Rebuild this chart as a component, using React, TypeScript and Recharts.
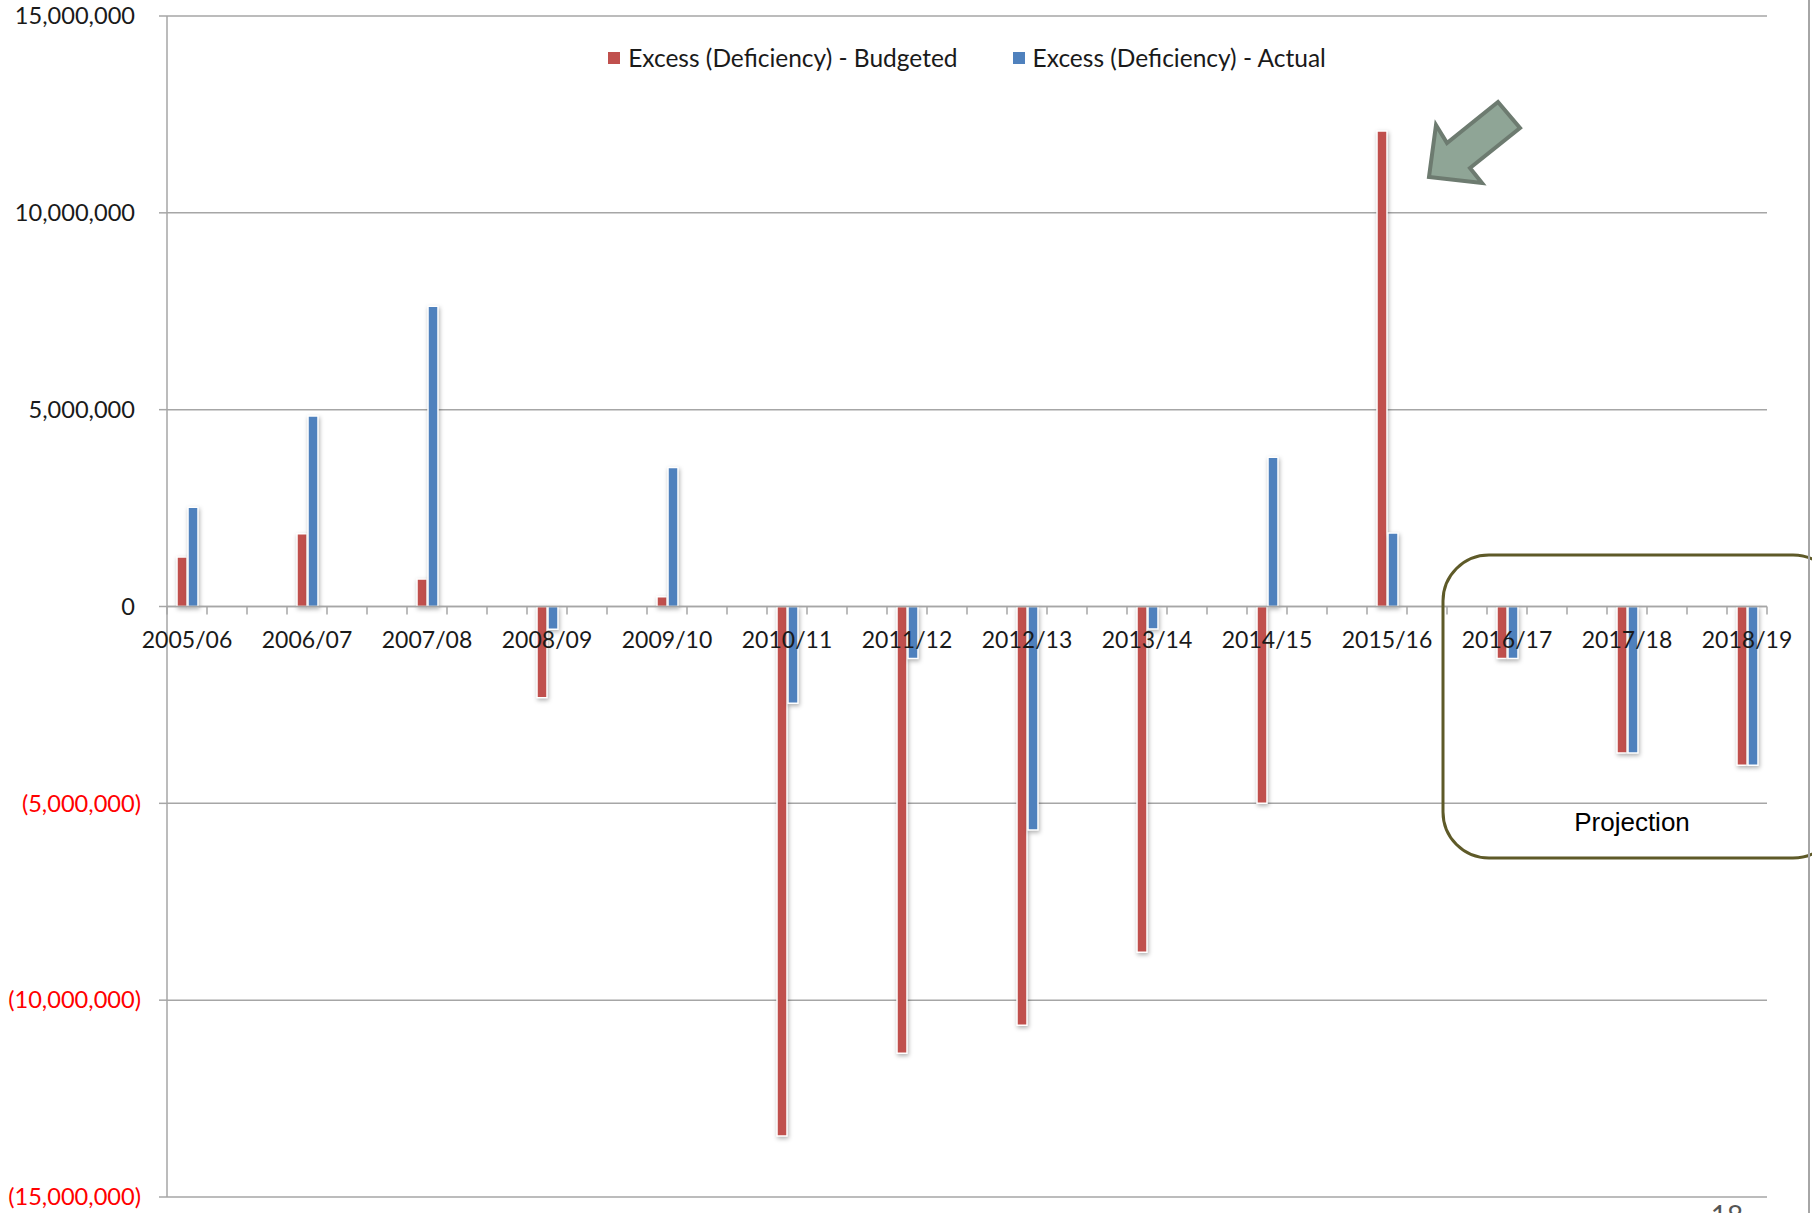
import { BarChart, Bar, XAxis, YAxis, CartesianGrid, ReferenceLine, Legend } from 'recharts';

// Fiscal years and surplus / deficit per year
const YEARS = [
  '2005/06', '2006/07', '2007/08', '2008/09', '2009/10', '2010/11', '2011/12',
  '2012/13', '2013/14', '2014/15', '2015/16', '2016/17', '2017/18', '2018/19',
];
const BUDGETED = [
  1260000, 1850000, 700000, -2320000, 250000, -13450000, -11350000,
  -10640000, -8780000, -5000000, 12080000, -1320000, -3720000, -4030000,
];
const ACTUAL = [
  2520000, 4840000, 7630000, -580000, 3530000, -2460000, -1320000,
  -5680000, -570000, 3790000, 1870000, -1320000, -3720000, -4030000,
];
const Y_TICKS = [-15000000, -10000000, -5000000, 0, 5000000, 10000000, 15000000];
const Y_MIN = -15000000;
const Y_MAX = 15000000;

// two empty category slots sit between consecutive years
const BLANK_SLOTS = 2;

const RED = '#c0504d';
const BLUE = '#4f81bd';
const GRID = '#a6a6a6';
const FONT = 'Lato, "Open Sans", sans-serif';

const W = 1812;
const H = 1213;
const MARGIN = { top: 16, right: 45, bottom: 15, left: 0 };
const Y_AXIS_W = 167;
const X_AXIS_H = 1;
const PLOT_W = W - MARGIN.left - MARGIN.right - Y_AXIS_W;
const PLOT_H = H - MARGIN.top - MARGIN.bottom - X_AXIS_H;

const data: { slot: string; budgeted: number | null; actual: number | null }[] = [];
YEARS.forEach((year, i) => {
  data.push({ slot: year, budgeted: BUDGETED[i], actual: ACTUAL[i] });
  if (i < YEARS.length - 1) {
    for (let k = 0; k < BLANK_SLOTS; k++) data.push({ slot: '', budgeted: null, actual: null });
  }
});
const SLOT_W = PLOT_W / data.length;

const fmt = (v: number) => {
  const s = Math.abs(v).toLocaleString('en-US');
  return v < 0 ? `(${s})` : s;
};

// category labels and tick marks hang off the zero line, not the plot bottom
const CategoryTick = (props: any) => {
  const { x, y, payload, index, visibleTicksCount } = props;
  const zeroY = y - (PLOT_H * (0 - Y_MIN)) / (Y_MAX - Y_MIN);
  const left = x - SLOT_W / 2;
  return (
    <g>
      <line x1={left} x2={left} y1={zeroY} y2={zeroY + 8} stroke={GRID} strokeWidth={1.5} />
      {index === visibleTicksCount - 1 && (
        <line x1={x + SLOT_W / 2} x2={x + SLOT_W / 2} y1={zeroY} y2={zeroY + 8} stroke={GRID} strokeWidth={1.5} />
      )}
      {payload.value ? (
        <text x={x} y={zeroY + 33} dy="0.35em" textAnchor="middle" fontSize={23} fontFamily={FONT} fill="#1a1a1a">
          {payload.value}
        </text>
      ) : null}
    </g>
  );
};

const ValueTick = (props: any) => {
  const { x, y, payload } = props;
  const v = payload.value as number;
  return (
    <text
      x={v < 0 ? x : x - 6}
      y={y}
      dy="0.35em"
      textAnchor="end"
      fontSize={23.6}
      fontFamily={FONT}
      fill={v < 0 ? '#ff0000' : '#1a1a1a'}
    >
      {fmt(v)}
    </text>
  );
};

const LegendContent = () => (
  <div style={{ display: 'flex', justifyContent: 'center', gap: 55, fontFamily: FONT, fontSize: 24.5, color: '#1a1a1a' }}>
    {[
      { color: RED, label: 'Excess (Deficiency) - Budgeted' },
      { color: BLUE, label: 'Excess (Deficiency) - Actual' },
    ].map((it) => (
      <div key={it.label} style={{ display: 'flex', alignItems: 'center', gap: 8 }}>
        <div style={{ width: 12, height: 12, background: it.color }} />
        <span>{it.label}</span>
      </div>
    ))}
  </div>
);

export default function App() {
  return (
    <div style={{ position: 'absolute', top: 0, left: 0, width: W, height: H, overflow: 'hidden', background: '#fff' }}>
      <style>{'.recharts-bar-rectangle path { filter: drop-shadow(1px 2px 2px rgba(0,0,0,0.3)); }'}</style>
      <BarChart width={W} height={H} data={data} margin={MARGIN} barSize={10} barGap={1}>
        <CartesianGrid vertical={false} stroke={GRID} strokeWidth={1.5} />
        <XAxis
          dataKey="slot"
          height={X_AXIS_H}
          axisLine={false}
          tickLine={false}
          tickSize={0}
          tickMargin={0}
          interval={0}
          tick={<CategoryTick />}
        />
        <YAxis
          width={Y_AXIS_W}
          domain={[Y_MIN, Y_MAX]}
          ticks={Y_TICKS}
          allowDataOverflow
          axisLine={{ stroke: GRID, strokeWidth: 1.5 }}
          tickLine={{ stroke: GRID, strokeWidth: 1.5 }}
          tickSize={8}
          tickMargin={18}
          tick={<ValueTick />}
        />
        <ReferenceLine y={0} stroke={GRID} strokeWidth={1.5} />
        <Legend
          verticalAlign="middle"
          layout="horizontal"
          content={<LegendContent />}
          wrapperStyle={{ top: 43, left: MARGIN.left + Y_AXIS_W, width: PLOT_W }}
        />
        <Bar dataKey="budgeted" name="Excess (Deficiency) - Budgeted" fill={RED} stroke="#fff" strokeWidth={1.5} isAnimationActive={false} />
        <Bar dataKey="actual" name="Excess (Deficiency) - Actual" fill={BLUE} stroke="#fff" strokeWidth={1.5} isAnimationActive={false} />
      </BarChart>

      {/* callout arrow, projection frame, slide edge and page number */}
      <svg width={W} height={H} style={{ position: 'absolute', top: 0, left: 0, pointerEvents: 'none' }}>
        <polygon
          points="1498,102 1520,128 1470,168 1482,183 1429,177 1436,125 1447,143"
          fill="#8fa596"
          stroke="#6d7b70"
          strokeWidth={4}
          strokeLinejoin="miter"
        />
        <rect x={1443} y={555} width={396} height={303} rx={46} ry={46} fill="none" stroke="#5e5a28" strokeWidth={3} />
        <text x={1632} y={822} dy="0.35em" textAnchor="middle" fontSize={26} fontFamily='"Liberation Sans", Arial, sans-serif' fill="#000">
          Projection
        </text>
        <line x1={1809} x2={1809} y1={0} y2={H} stroke={GRID} strokeWidth={2} />
        <text x={1727} y={1226} textAnchor="middle" fontSize={28} fontFamily={FONT} fill="#555">
          18
        </text>
      </svg>
    </div>
  );
}
